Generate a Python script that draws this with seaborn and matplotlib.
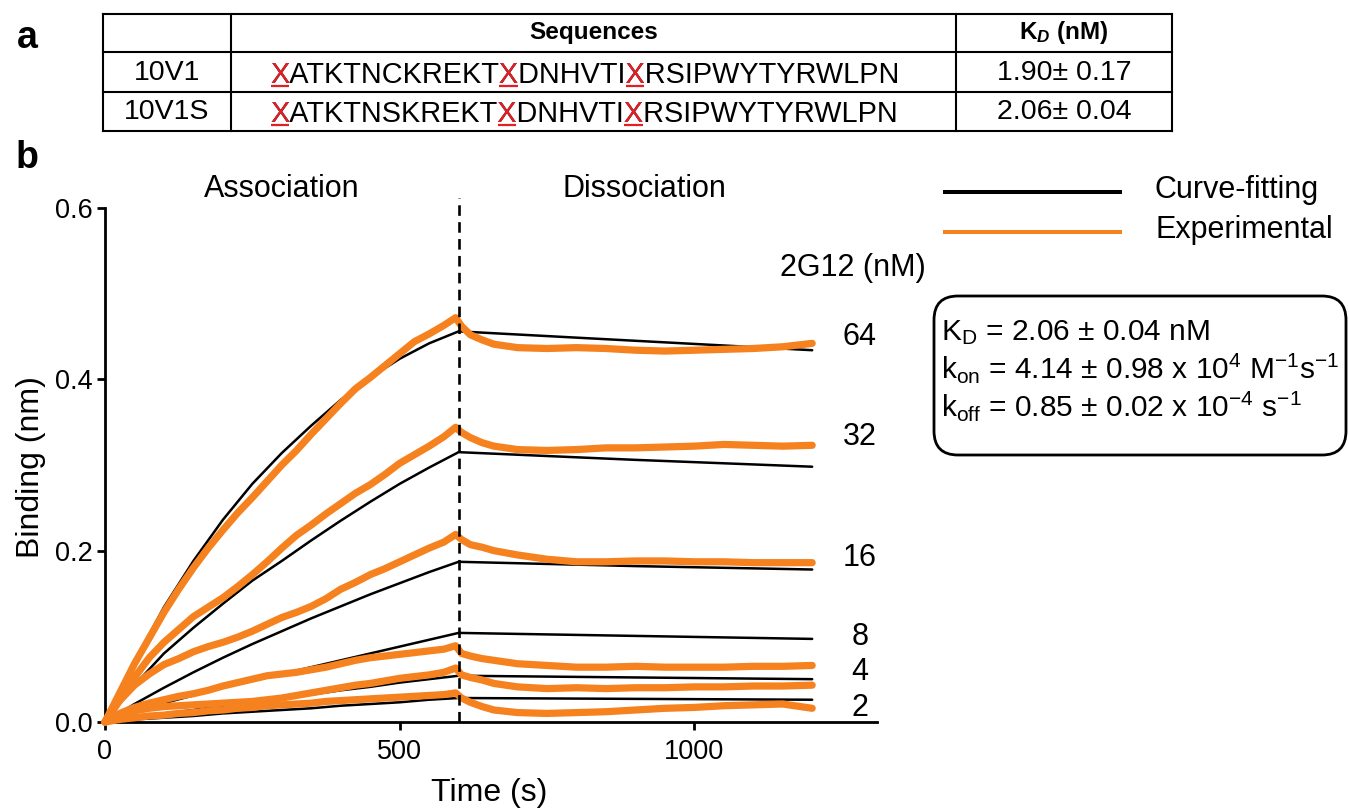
import numpy as np
import pandas as pd
import seaborn as sns
import matplotlib.pyplot as plt
from matplotlib.patches import FancyBboxPatch
from matplotlib.transforms import Bbox

# ---------------------------------------------------------------- data
concs = [64, 32, 16, 8, 4, 2]

fit_time = [0, 50, 100, 150, 200, 250, 300, 350, 400, 450, 500, 550, 600, 900, 1200]
fit_64 = [0, .070, .134, .188, .236, .278, .314, .346, .376, .402, .424, .442, .456, .445, .434]
fit_32 = [0, .043, .080, .110, .138, .165, .188, .212, .235, .257, .278, .297, .315, .306, .298]
fit_16 = [0, .021, .040, .058, .075, .091, .106, .121, .135, .149, .162, .175, .187, .182, .178]
fit_8 = [0, .012, .022, .031, .040, .048, .056, .064, .072, .080, .088, .096, .104, .1005, .097]
fit_4 = [0, .005, .010, .014, .019, .024, .028, .032, .037, .041, .046, .050, .054, .052, .050]
fit_2 = [0, .003, .005, .007, .010, .012, .014, .016, .019, .021, .023, .026, .028, .027, .026]

exp_time = [0, 25, 50, 75, 100, 125, 150, 175, 200, 225, 250, 275, 300, 325, 350, 375,
            400, 425, 450, 475, 500, 525, 550, 575, 595, 605, 620, 640, 660, 700, 750,
            800, 850, 900, 950, 1000, 1050, 1100, 1150, 1200]
exp_64 = [0, .034, .068, .098, .128, .155, .180, .203, .224, .244, .262, .281, .300, .317,
          .336, .354, .372, .389, .402, .416, .430, .444, .453, .463, .472, .462, .452, .446,
          .441, .437, .436, .437, .436, .434, .433, .434, .435, .436, .438, .442]
exp_32 = [0, .030, .052, .075, .093, .108, .123, .134, .145, .158, .172, .187, .203, .218,
          .230, .243, .255, .267, .277, .289, .302, .312, .322, .333, .344, .338, .332, .326,
          .322, .318, .317, .318, .320, .320, .321, .322, .324, .323, .322, .323]
exp_16 = [0, .025, .043, .056, .067, .074, .082, .088, .093, .099, .106, .114, .122, .128,
          .135, .144, .155, .163, .172, .179, .187, .195, .203, .210, .219, .213, .207, .204,
          .200, .195, .190, .187, .187, .188, .188, .187, .187, .186, .186, .186]
exp_8 = [0, .010, .017, .022, .026, .030, .033, .037, .042, .046, .050, .054, .056, .058,
         .061, .064, .068, .072, .075, .077, .079, .081, .083, .085, .089, .080, .077, .074,
         .072, .068, .066, .064, .064, .065, .064, .064, .064, .065, .065, .066]
exp_4 = [0, .008, .013, .016, .018, .019, .020, .021, .022, .023, .024, .026, .028, .031,
         .034, .037, .040, .043, .045, .048, .051, .053, .055, .058, .063, .055, .052, .049,
         .045, .041, .039, .040, .039, .040, .040, .041, .041, .042, .042, .043]
exp_2 = [0, .003, .005, .007, .008, .010, .011, .013, .014, .016, .017, .019, .020, .021,
         .022, .024, .025, .026, .027, .028, .029, .030, .031, .032, .034, .028, .023, .018,
         .014, .011, .010, .011, .012, .014, .016, .017, .019, .020, .021, .016]

fit_series = [fit_64, fit_32, fit_16, fit_8, fit_4, fit_2]
exp_series = [exp_64, exp_32, exp_16, exp_8, exp_4, exp_2]

x_ticks = [0, 500, 1000]
y_ticks = [0.0, 0.2, 0.4, 0.6]
y_tick_labels = ["0.0", "0.2", "0.4", "0.6"]

peptides = ["10V1", "10V1S"]
sequences = ["XATKTNCKREKTXDNHVTIXRSIPWYTYRWLPN",
             "XATKTNSKREKTXDNHVTIXRSIPWYTYRWLPN"]
kd_values = ["1.90\u00b1 0.17", "2.06\u00b1 0.04"]

kinetics = [
    r"K$_{\mathrm{D}}$ = 2.06 $\pm$ 0.04 nM",
    r"k$_{\mathrm{on}}$ = 4.14 $\pm$ 0.98 x 10$^{4}$ M$^{\mathrm{-1}}$s$^{\mathrm{-1}}$",
    r"k$_{\mathrm{off}}$ = 0.85 $\pm$ 0.02 x 10$^{\mathrm{-4}}$ s$^{\mathrm{-1}}$",
]

# ---------------------------------------------------------------- style
sns.set_theme(style="ticks")
plt.rcParams["font.family"] = ["Liberation Sans", "DejaVu Sans"]
plt.rcParams["text.color"] = "black"
plt.rcParams["axes.labelcolor"] = "black"
plt.rcParams["axes.edgecolor"] = "black"
plt.rcParams["xtick.color"] = "black"
plt.rcParams["ytick.color"] = "black"
plt.rcParams["mathtext.fontset"] = "custom"
plt.rcParams["mathtext.rm"] = "Liberation Sans"
plt.rcParams["mathtext.it"] = "Liberation Sans:italic"
plt.rcParams["mathtext.bf"] = "Liberation Sans:bold"
plt.rcParams["mathtext.bfit"] = "Liberation Sans:italic:bold"
plt.rcParams["mathtext.sf"] = "Liberation Sans"

ORANGE = "#F5821F"
RED = "#E31E24"
W, H = 1349, 811

fig = plt.figure(figsize=(W / 100, H / 100), dpi=100)

# pixel-space overlay for table, legend, annotations
ov = fig.add_axes([0, 0, 1, 1], zorder=3)
ov.set_xlim(0, W)
ov.set_ylim(H, 0)
ov.axis("off")
ov.patch.set_alpha(0)

# ---------------------------------------------------------------- sensorgram panel
ax = fig.add_axes([105 / W, (H - 722) / H, 772 / W, 514 / H])

fit_df = pd.concat([pd.DataFrame({"time": fit_time, "binding": v, "conc": c})
                    for c, v in zip(concs, fit_series)])
exp_df = pd.concat([pd.DataFrame({"time": exp_time, "binding": v, "conc": c})
                    for c, v in zip(concs, exp_series)])

sns.lineplot(data=fit_df, x="time", y="binding", units="conc", estimator=None,
             color="black", lw=1.8, ax=ax, legend=False, zorder=2)
n_fit = len(ax.lines)
sns.lineplot(data=exp_df, x="time", y="binding", units="conc", estimator=None,
             color=ORANGE, lw=5.2, ax=ax, legend=False, zorder=3)
for i, ln in enumerate(ax.lines):
    ln.set_clip_on(False)
    if i >= n_fit:
        ln.set_solid_capstyle("round")
        ln.set_solid_joinstyle("round")

ax.plot([600, 600], [0, 0.612], color="black", lw=1.9, ls=(0, (4, 2.4)),
        clip_on=False, zorder=4)

ax.set_xlim(0, 1310)
ax.set_ylim(0, 0.6)
ax.set_xticks(x_ticks)
ax.set_yticks(y_ticks)
ax.set_yticklabels(y_tick_labels)
sns.despine(ax=ax)
for s in ["left", "bottom"]:
    ax.spines[s].set_linewidth(2.0)
    ax.spines[s].set_color("black")
ax.tick_params(axis="both", direction="out", length=6, width=2.0,
               labelsize=19.5, color="black", labelcolor="black")
ax.tick_params(axis="y", pad=3)
ax.tick_params(axis="x", pad=6)
ax.set_xlabel("")
ax.set_ylabel("")
ax.grid(False)

ax.text(300, 0.622, "Association", fontsize=22, ha="center", va="center")
ax.text(915, 0.622, "Dissociation", fontsize=22, ha="center", va="center")

label_y = [0.449, 0.333, 0.192, 0.0994, 0.058, 0.016]
for c, yy in zip(concs, label_y):
    ax.text(1281, yy, str(c), fontsize=22, ha="center", va="center")

ov.text(489, 793, "Time (s)", fontsize=23, ha="center", va="center")
ov.text(31, 467, "Binding (nm)", fontsize=23, ha="center", va="center", rotation=90)

# ---------------------------------------------------------------- legend
ov.plot([943, 1122], [192, 192], color="black", lw=2.9, solid_capstyle="butt")
ov.plot([943, 1122], [232, 232], color=ORANGE, lw=2.9, solid_capstyle="butt")
ov.text(1155, 190, "Curve-fitting", fontsize=22, ha="left", va="center")
ov.text(1155, 230, "Experimental", fontsize=22, ha="left", va="center")

ov.text(853, 268, "2G12 (nM)", fontsize=22, ha="center", va="center")

# ---------------------------------------------------------------- kinetics box
box = FancyBboxPatch((934, 296), 1346 - 934, 455 - 296,
                     boxstyle="round,pad=0,rounding_size=24",
                     fc="none", ec="black", lw=2.0, clip_on=False)
ov.add_patch(box)
for i, line in enumerate(kinetics):
    ov.text(941, 340 + 38 * i, line, fontsize=21.5, ha="left", va="baseline")

# ---------------------------------------------------------------- panel labels
ov.text(27, 38, "a", fontsize=27, fontweight="bold", ha="center", va="center")
ov.text(27, 158, "b", fontsize=27, fontweight="bold", ha="center", va="center")

# ---------------------------------------------------------------- table
tl, tr, tt, tb = 103, 1172, 14, 131
c1, c2 = 231, 956
r1, r2 = 52, 92
lw_t = 1.5
for yy in (tt, r1, r2, tb):
    ov.plot([tl, tr], [yy, yy], color="black", lw=lw_t, solid_capstyle="projecting")
for xx in (tl, c1, c2, tr):
    ov.plot([xx, xx], [tt, tb], color="black", lw=lw_t, solid_capstyle="projecting")

ov.text((c1 + c2) / 2, 33, "Sequences", fontsize=17.5, fontweight="bold",
        ha="center", va="center")
ov.text((c2 + tr) / 2, 33, r"K$_{\mathbfit{D}}$ (nM)", fontsize=17.5,
        fontweight="bold", ha="center", va="center")

renderer = fig.canvas.get_renderer()
SEQ_SIZE = 20.8


def text_width(s):
    probe = ov.text(0, 0, s, fontsize=SEQ_SIZE)
    w = probe.get_window_extent(renderer).width
    probe.remove()
    return w


w_x = text_width("X")
row_base = [83, 122]
row_mid = [73, 112]
for r in range(2):
    ov.text((tl + c1) / 2, row_mid[r], peptides[r], fontsize=20.5,
            ha="center", va="center")
    ov.text((c2 + tr) / 2, row_mid[r], kd_values[r], fontsize=20.5,
            ha="center", va="center")
    seq = sequences[r]
    base = ov.text(270, row_base[r], seq, fontsize=SEQ_SIZE, ha="left", va="baseline")
    bb = base.get_window_extent(renderer)
    for k, ch in enumerate(seq):
        if ch != "X":
            continue
        right = bb.x0 + text_width(seq[:k + 1])
        left = right - w_x
        red = ov.text(270, row_base[r], seq, fontsize=SEQ_SIZE, ha="left",
                      va="baseline", color=RED)
        red.set_clip_box(Bbox([[left - 1.0, bb.y0 - 6], [right + 1.0, bb.y1 + 6]]))
        red.set_clip_on(True)
        ov.plot([left + 0.5, right - 0.5], [row_base[r] + 3, row_base[r] + 3],
                color=RED, lw=1.6, solid_capstyle="butt")

fig.savefig("out.png", dpi=100)
